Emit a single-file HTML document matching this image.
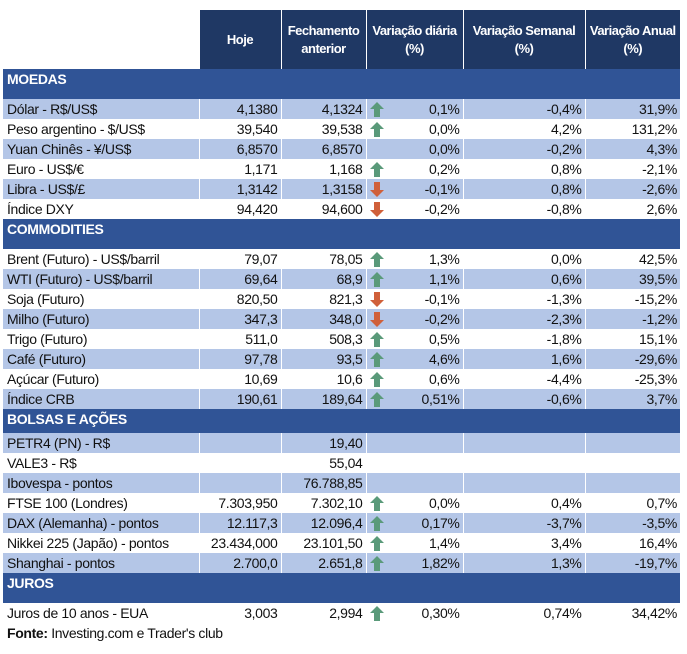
<!DOCTYPE html><html><head><style>
body{margin:0;background:#fff;width:687px;height:654px;overflow:hidden;font-family:"Liberation Sans",sans-serif;}
table{position:absolute;left:3px;top:10px;width:677px;border-collapse:collapse;table-layout:fixed;font-size:14px;color:#111;letter-spacing:-0.35px}
td{padding:0 3px;height:20px;white-space:nowrap;overflow:hidden;border-left:1px solid #fff;text-align:right}
td:first-child{text-align:left;border-left:none;padding-left:4px}
tr.h td{background:#1f3864;color:#fff;font-weight:bold;text-align:center;height:59px;line-height:18px;font-size:13px;letter-spacing:-0.5px;white-space:normal;padding:0 1px}
tr.h td:first-child{background:#fff}
tr.b td{background:#b4c6e7}
tr.s td{background:#305496;color:#fff;font-weight:bold;vertical-align:top;padding-top:2px;font-size:14px}
td.a{position:relative}
svg{position:absolute;left:3px;top:3px}
</style></head><body>
<table>
<colgroup><col style="width:196px"><col style="width:82px"><col style="width:85px"><col style="width:97px"><col style="width:122px"><col style="width:95px"></colgroup>
<tr class="h"><td></td><td>Hoje</td><td>Fechamento anterior</td><td>Variação diária (%)</td><td>Variação Semanal (%)</td><td>Variação Anual (%)</td></tr>
<tr class="s"><td colspan="6" style="height:28px">MOEDAS</td></tr>
<tr class="b"><td>Dólar - R$/US$</td><td>4,1380</td><td>4,1324</td><td class="a"><svg width="14" height="15"><path d="M7 0L14 7H10V15H4V7H0Z" fill="#5a9a7a"/></svg>0,1%</td><td>-0,4%</td><td>31,9%</td></tr>
<tr><td>Peso argentino - $/US$</td><td>39,540</td><td>39,538</td><td class="a"><svg width="14" height="15"><path d="M7 0L14 7H10V15H4V7H0Z" fill="#5a9a7a"/></svg>0,0%</td><td>4,2%</td><td>131,2%</td></tr>
<tr class="b"><td>Yuan Chinês - ¥/US$</td><td>6,8570</td><td>6,8570</td><td>0,0%</td><td>-0,2%</td><td>4,3%</td></tr>
<tr><td>Euro - US$/€</td><td>1,171</td><td>1,168</td><td class="a"><svg width="14" height="15"><path d="M7 0L14 7H10V15H4V7H0Z" fill="#5a9a7a"/></svg>0,2%</td><td>0,8%</td><td>-2,1%</td></tr>
<tr class="b"><td>Libra - US$/£</td><td>1,3142</td><td>1,3158</td><td class="a"><svg width="14" height="15"><path d="M7 15L14 8H10V0H4V8H0Z" fill="#d0603a"/></svg>-0,1%</td><td>0,8%</td><td>-2,6%</td></tr>
<tr><td>Índice DXY</td><td>94,420</td><td>94,600</td><td class="a"><svg width="14" height="15"><path d="M7 15L14 8H10V0H4V8H0Z" fill="#d0603a"/></svg>-0,2%</td><td>-0,8%</td><td>2,6%</td></tr>
<tr class="s"><td colspan="6" style="height:28px">COMMODITIES</td></tr>
<tr><td>Brent (Futuro) - US$/barril</td><td>79,07</td><td>78,05</td><td class="a"><svg width="14" height="15"><path d="M7 0L14 7H10V15H4V7H0Z" fill="#5a9a7a"/></svg>1,3%</td><td>0,0%</td><td>42,5%</td></tr>
<tr class="b"><td>WTI (Futuro) - US$/barril</td><td>69,64</td><td>68,9</td><td class="a"><svg width="14" height="15"><path d="M7 0L14 7H10V15H4V7H0Z" fill="#5a9a7a"/></svg>1,1%</td><td>0,6%</td><td>39,5%</td></tr>
<tr><td>Soja (Futuro)</td><td>820,50</td><td>821,3</td><td class="a"><svg width="14" height="15"><path d="M7 15L14 8H10V0H4V8H0Z" fill="#d0603a"/></svg>-0,1%</td><td>-1,3%</td><td>-15,2%</td></tr>
<tr class="b"><td>Milho (Futuro)</td><td>347,3</td><td>348,0</td><td class="a"><svg width="14" height="15"><path d="M7 15L14 8H10V0H4V8H0Z" fill="#d0603a"/></svg>-0,2%</td><td>-2,3%</td><td>-1,2%</td></tr>
<tr><td>Trigo (Futuro)</td><td>511,0</td><td>508,3</td><td class="a"><svg width="14" height="15"><path d="M7 0L14 7H10V15H4V7H0Z" fill="#5a9a7a"/></svg>0,5%</td><td>-1,8%</td><td>15,1%</td></tr>
<tr class="b"><td>Café (Futuro)</td><td>97,78</td><td>93,5</td><td class="a"><svg width="14" height="15"><path d="M7 0L14 7H10V15H4V7H0Z" fill="#5a9a7a"/></svg>4,6%</td><td>1,6%</td><td>-29,6%</td></tr>
<tr><td>Açúcar (Futuro)</td><td>10,69</td><td>10,6</td><td class="a"><svg width="14" height="15"><path d="M7 0L14 7H10V15H4V7H0Z" fill="#5a9a7a"/></svg>0,6%</td><td>-4,4%</td><td>-25,3%</td></tr>
<tr class="b"><td>Índice CRB</td><td>190,61</td><td>189,64</td><td class="a"><svg width="14" height="15"><path d="M7 0L14 7H10V15H4V7H0Z" fill="#5a9a7a"/></svg>0,51%</td><td>-0,6%</td><td>3,7%</td></tr>
<tr class="s"><td colspan="6" style="height:22px">BOLSAS E AÇÕES</td></tr>
<tr class="b"><td>PETR4 (PN) - R$</td><td></td><td>19,40</td><td></td><td></td><td></td></tr>
<tr><td>VALE3 - R$</td><td></td><td>55,04</td><td></td><td></td><td></td></tr>
<tr class="b"><td>Ibovespa - pontos</td><td></td><td>76.788,85</td><td></td><td></td><td></td></tr>
<tr><td>FTSE 100 (Londres)</td><td>7.303,950</td><td>7.302,10</td><td class="a"><svg width="14" height="15"><path d="M7 0L14 7H10V15H4V7H0Z" fill="#5a9a7a"/></svg>0,0%</td><td>0,4%</td><td>0,7%</td></tr>
<tr class="b"><td>DAX (Alemanha) - pontos</td><td>12.117,3</td><td>12.096,4</td><td class="a"><svg width="14" height="15"><path d="M7 0L14 7H10V15H4V7H0Z" fill="#5a9a7a"/></svg>0,17%</td><td>-3,7%</td><td>-3,5%</td></tr>
<tr><td>Nikkei 225 (Japão) - pontos</td><td>23.434,000</td><td>23.101,50</td><td class="a"><svg width="14" height="15"><path d="M7 0L14 7H10V15H4V7H0Z" fill="#5a9a7a"/></svg>1,4%</td><td>3,4%</td><td>16,4%</td></tr>
<tr class="b"><td>Shanghai - pontos</td><td>2.700,0</td><td>2.651,8</td><td class="a"><svg width="14" height="15"><path d="M7 0L14 7H10V15H4V7H0Z" fill="#5a9a7a"/></svg>1,82%</td><td>1,3%</td><td>-19,7%</td></tr>
<tr class="s"><td colspan="6" style="height:28px">JUROS</td></tr>
<tr><td>Juros de 10 anos - EUA</td><td>3,003</td><td>2,994</td><td class="a"><svg width="14" height="15"><path d="M7 0L14 7H10V15H4V7H0Z" fill="#5a9a7a"/></svg>0,30%</td><td>0,74%</td><td>34,42%</td></tr>
<tr><td colspan="6"><b>Fonte:</b> Investing.com e Trader's club</td></tr>
</table>
</body></html>
